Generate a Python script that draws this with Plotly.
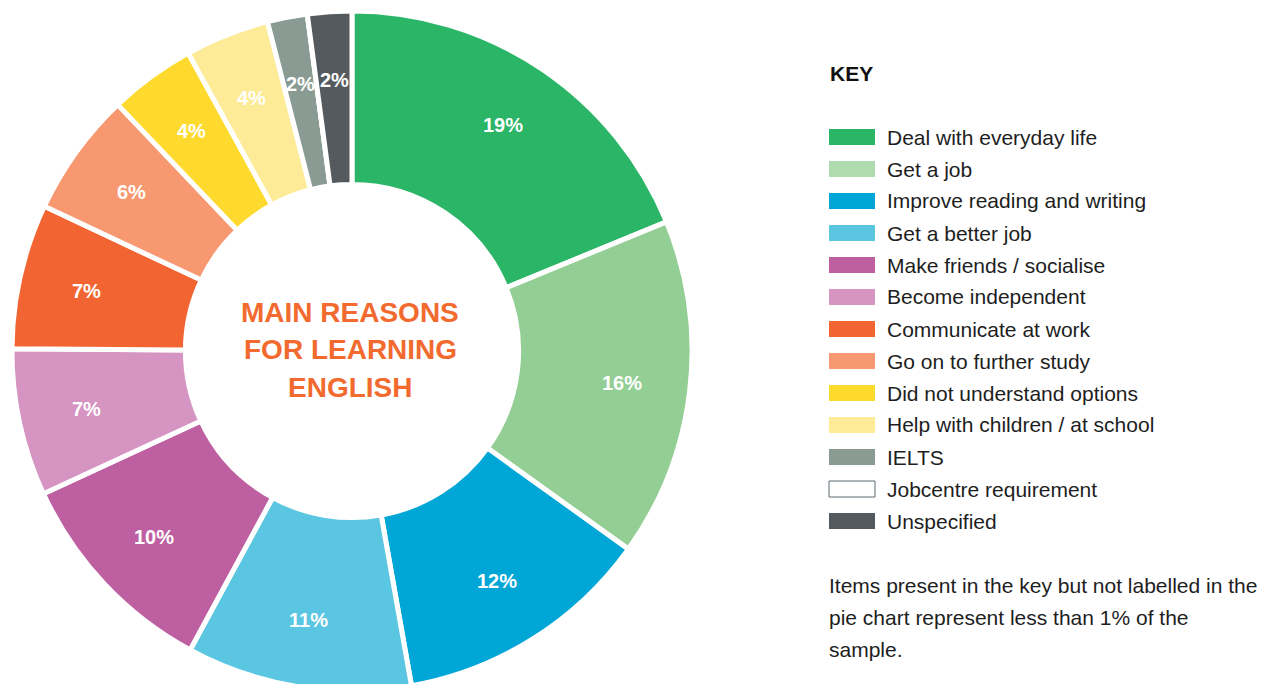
import math
import plotly.graph_objects as go

# ---- data ----
categories = [
    "Deal with everyday life", "Get a job", "Improve reading and writing",
    "Get a better job", "Make friends / socialise", "Become independent",
    "Communicate at work", "Go on to further study", "Did not understand options",
    "Help with children / at school", "IELTS", "Jobcentre requirement", "Unspecified",
]
values = [18.8, 16.1, 12.3, 10.7, 10.2, 7.0, 6.9, 5.9, 4.1, 4.0, 1.9, 0.0, 2.1]
slice_colors = [
    "#2BB566", "#93CE95", "#00A6D6", "#5BC6E1", "#BE5FA2", "#D594C1",
    "#F26532", "#F89870", "#FEDA2E", "#FDEB98", "#8A9B94", "#FFFFFF", "#545A5E",
]
key_colors = [
    "#2BB566", "#AFDBAF", "#00A6D6", "#5BC6E1", "#BE5FA2", "#D594C1",
    "#F26532", "#F89870", "#FEDA2E", "#FDEB98", "#8A9B94", "#FFFFFF", "#545A5E",
]
center_title = ["MAIN REASONS", "FOR LEARNING", "ENGLISH"]
key_title = "KEY"
footnote = ["Items present in the key but not labelled in the",
            "pie chart represent less than 1% of the",
            "sample."]

FONT = "Arial, 'Liberation Sans', sans-serif"
W, H = 1265, 684
OFF = 8            # page body margin
R = 340            # pie radius in px (domain size / 2)
PCX, PCY = 352, 351  # page coordinates of pie centre
ML, MT = PCX - R - OFF, PCY - R - OFF
PW, PH = W - ML, H - MT
CX, CY = PCX, PCY


def px(x):
    return (x - OFF - ML) / PW


def py(y):
    return 1 - (y - OFF - MT) / PH


fig = go.Figure()
fig.add_trace(go.Pie(
    labels=categories, values=values, sort=False, direction="clockwise",
    rotation=0, hole=0.49, textinfo="none", hoverinfo="label+percent",
    marker=dict(colors=slice_colors, line=dict(color="white", width=5)),
    domain=dict(x=[0, 2 * R / PW], y=[1 - 2 * R / PH, 1]), showlegend=False,
))

annotations = []
# percentage labels computed from the data
total = sum(values)
cum = 0.0
for v in values:
    if v / total * 100 >= 1:
        a = math.radians((cum + v / 2) / total * 360)
        rr = 0.80 * R
        x = CX + rr * math.sin(a)
        y = CY - rr * math.cos(a)
        annotations.append(dict(
            x=px(x), y=py(y), xref="paper", yref="paper", showarrow=False,
            text=f"<b>{round(v / total * 100)}%</b>",
            font=dict(family=FONT, size=20, color="white"),
            xanchor="center", yanchor="middle"))
    cum += v

# centre title
for i, line in enumerate(center_title):
    annotations.append(dict(
        x=px(CX - 2), y=py(312 + i * 37.5), xref="paper", yref="paper", showarrow=False,
        text=f"<b>{line}</b>", font=dict(family=FONT, size=28, color="#F26A2E"),
        xanchor="center", yanchor="middle"))

# key
annotations.append(dict(
    x=px(828), y=py(73), xref="paper", yref="paper", showarrow=False,
    text=f"<b>{key_title}</b>", font=dict(family=FONT, size=21, color="#111111"),
    xanchor="left", yanchor="middle"))

shapes = []
for i, (name, col) in enumerate(zip(categories, key_colors)):
    yc = 137 + i * 32
    shapes.append(dict(
        type="rect", xref="paper", yref="paper",
        x0=px(829), x1=px(875), y0=py(yc - 8), y1=py(yc + 8),
        fillcolor=col,
        line=dict(color="#5A6A72" if col == "#FFFFFF" else col, width=1 if col == "#FFFFFF" else 0)))
    annotations.append(dict(
        x=px(885), y=py(yc), xref="paper", yref="paper", showarrow=False,
        text=name, font=dict(family=FONT, size=21, color="#1E1E1E"),
        xanchor="left", yanchor="middle"))

for i, line in enumerate(footnote):
    annotations.append(dict(
        x=px(827), y=py(585 + i * 32), xref="paper", yref="paper", showarrow=False,
        text=line, font=dict(family=FONT, size=21, color="#1E1E1E"),
        xanchor="left", yanchor="middle"))

fig.update_layout(
    width=W, height=H, autosize=False,
    margin=dict(l=ML, t=MT, r=0, b=0, pad=0),
    paper_bgcolor="white", plot_bgcolor="white",
    annotations=annotations, shapes=shapes,
)

fig.write_html("out.html")
